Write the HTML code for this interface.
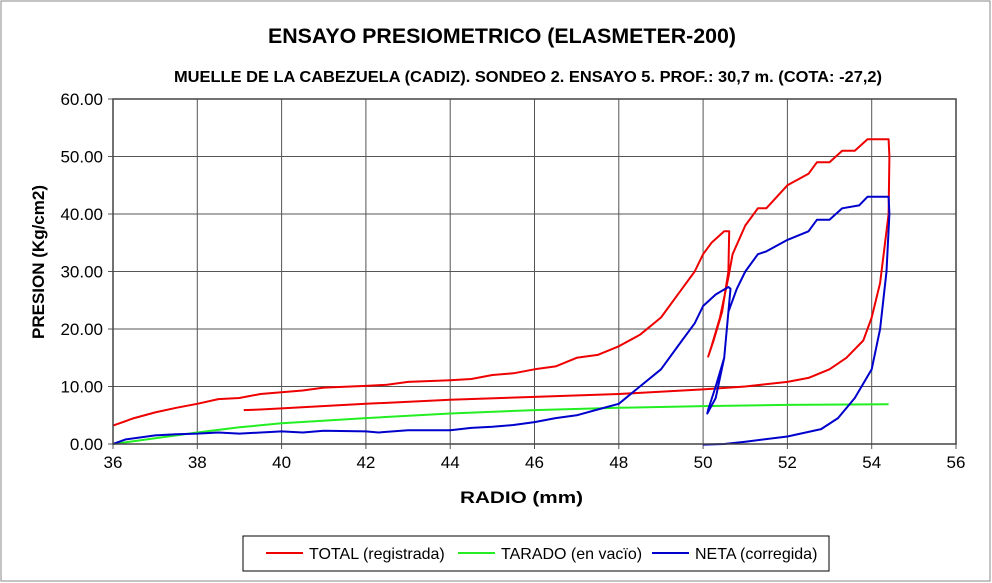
<!DOCTYPE html>
<html><head><meta charset="utf-8"><style>
html,body{margin:0;padding:0;background:#fff}
svg{display:block;font-family:"Liberation Sans",Arial,sans-serif}
</style></head><body>
<svg id="chart" width="992" height="583" viewBox="0 0 992 583">
<rect x="1" y="1" width="989" height="580" fill="#fff" stroke="#888"/>
<text x="268" y="43" textLength="468" lengthAdjust="spacingAndGlyphs" font-size="21" font-weight="bold">ENSAYO PRESIOMETRICO (ELASMETER-200)</text>
<text x="174" y="82" textLength="708" lengthAdjust="spacingAndGlyphs" font-size="16" font-weight="bold">MUELLE DE LA CABEZUELA (CADIZ). SONDEO 2. ENSAYO 5. PROF.: 30,7 m. (COTA: -27,2)</text>
<g id="grid"></g>
<g id="series"></g>
<g id="axes"></g>
<text x="460" y="503" textLength="123" lengthAdjust="spacingAndGlyphs" font-size="17" font-weight="bold">RADIO (mm)</text>
<text transform="translate(44,262) rotate(-90)" text-anchor="middle" font-size="17" font-weight="bold">PRESION (Kg/cm2)</text>
<g>
<rect x="243" y="536" width="586" height="35" fill="#fff" stroke="#000"/>
<g><line x1="266" y1="553" x2="303" y2="553" stroke="#e00" stroke-width="2"/><text x="309" y="559" font-size="16">TOTAL (registrada)</text></g>
<g><line x1="458" y1="553" x2="495" y2="553" stroke="#2e2" stroke-width="2"/><text x="501" y="559" font-size="16">TARADO (en vacïo)</text></g>
<g><line x1="652" y1="553" x2="689" y2="553" stroke="#00c" stroke-width="2"/><text x="695" y="559" font-size="16">NETA (corregida)</text></g>
</g>
</svg>
<script>
const xTicks=[36,38,40,42,44,46,48,50,52,54,56];
const yTicks=[0,10,20,30,40,50,60];
const yTickLabels=["0.00","10.00","20.00","30.00","40.00","50.00","60.00"];
const totalX=[36,36.5,37,37.5,38,38.5,39,39.5,40,40.5,41,42,42.5,43,44,44.5,45,45.5,46,46.5,47,47.5,48,48.5,49,49.5,49.8,50,50.2,50.5,50.62,50.6,50.45,50.25,50.12,50.2,50.4,50.6,50.7,51,51.3,51.5,52,52.5,52.7,53,53.3,53.6,53.9,54.3,54.4,54.42,54.4,54.2,54,53.8,53.4,53,52.5,52,51,50,48,46,44,42,40,39.5,39.1];
const totalY=[3.2,4.5,5.5,6.3,7,7.8,8,8.7,9,9.3,9.8,10.1,10.3,10.8,11.1,11.3,12,12.3,13,13.5,15,15.5,17,19,22,27,30,33,35,37,37,30,23,18,15.2,17,22,29,33,38,41,41,45,47,49,49,51,51,53,53,53,50,40,28,22,18,15,13,11.5,10.8,10,9.5,8.7,8.2,7.7,7,6.2,6,5.9];
const taradoX=[36,37,38,39,40,42,44,46,48,50,52,54.4];
const taradoY=[0,1,2,2.9,3.6,4.5,5.3,5.9,6.3,6.6,6.8,6.9];
const netaX=[36,36.3,37,37.5,38,38.5,39,40,40.5,41,42,42.3,43,44,44.5,45,45.5,46,46.5,47,47.5,48,48.5,49,49.5,49.8,50,50.3,50.6,50.65,50.5,50.3,50.12,50.1,50.3,50.5,50.6,50.8,51,51.3,51.5,52,52.5,52.7,53,53.3,53.7,53.9,54.3,54.4,54.42,54.35,54.2,54,53.6,53.2,52.8,52,51,50.5,50];
const netaY=[0,0.8,1.5,1.7,1.8,2,1.8,2.2,2,2.3,2.2,2,2.4,2.4,2.8,3,3.3,3.8,4.5,5,6,7,10,13,18,21,24,26,27.3,27,15,10,6,5.3,8,15,23,27,30,33,33.5,35.5,37,39,39,41,41.5,43,43,43,40,30,20,13,8,4.5,2.6,1.3,0.4,0,-0.1];
const X0=113,X1=956,Y0=444,Y1=99;
function sx(v){return X0+(v-36)/(56-36)*(X1-X0);}
function sy(v){return Y0-(v/60)*(Y0-Y1);}
const NS="http://www.w3.org/2000/svg";
function mk(t,a,p){const e=document.createElementNS(NS,t);for(const k in a)e.setAttribute(k,a[k]);p.appendChild(e);return e;}
const grid=document.getElementById('grid'),axes=document.getElementById('axes'),ser=document.getElementById('series');
mk('rect',{x:X0,y:Y1,width:X1-X0,height:Y0-Y1,fill:'#fff',stroke:'none'},grid);
xTicks.forEach(v=>{
 const l=mk('line',{x1:sx(v),x2:sx(v),y1:Y1,y2:Y0+5,stroke:'#555','stroke-width':1},grid);
 
 
 const t=mk('text',{x:sx(v),y:Y0+24,'text-anchor':'middle','font-size':17},axes);t.textContent=v;
 
 
});
yTicks.forEach((v,i)=>{
 const l=mk('line',{x1:X0-5,x2:X1,y1:sy(v),y2:sy(v),stroke:'#555','stroke-width':1},grid);
 
 
 const t=mk('text',{x:X0-10,y:sy(v)+6,'text-anchor':'end','font-size':17},axes);t.textContent=yTickLabels[i];
 
 
});
mk('rect',{x:X0,y:Y1,width:X1-X0,height:Y0-Y1,fill:'none',stroke:'#444','stroke-width':1.5},axes);
function line(xs,ys,c,name){
 const d=xs.map((x,i)=>(i?'L':'M')+sx(x).toFixed(1)+' '+sy(ys[i]).toFixed(1)).join(' ');
 const p=mk('path',{d:d,fill:'none',stroke:c,'stroke-width':2,'stroke-linejoin':'round'},ser);
 
 
}
line(taradoX,taradoY,'#2e2','series-tarado');
line(totalX,totalY,'#e00','series-total');
line(netaX,netaY,'#00c','series-neta');
</script>
</body></html>
